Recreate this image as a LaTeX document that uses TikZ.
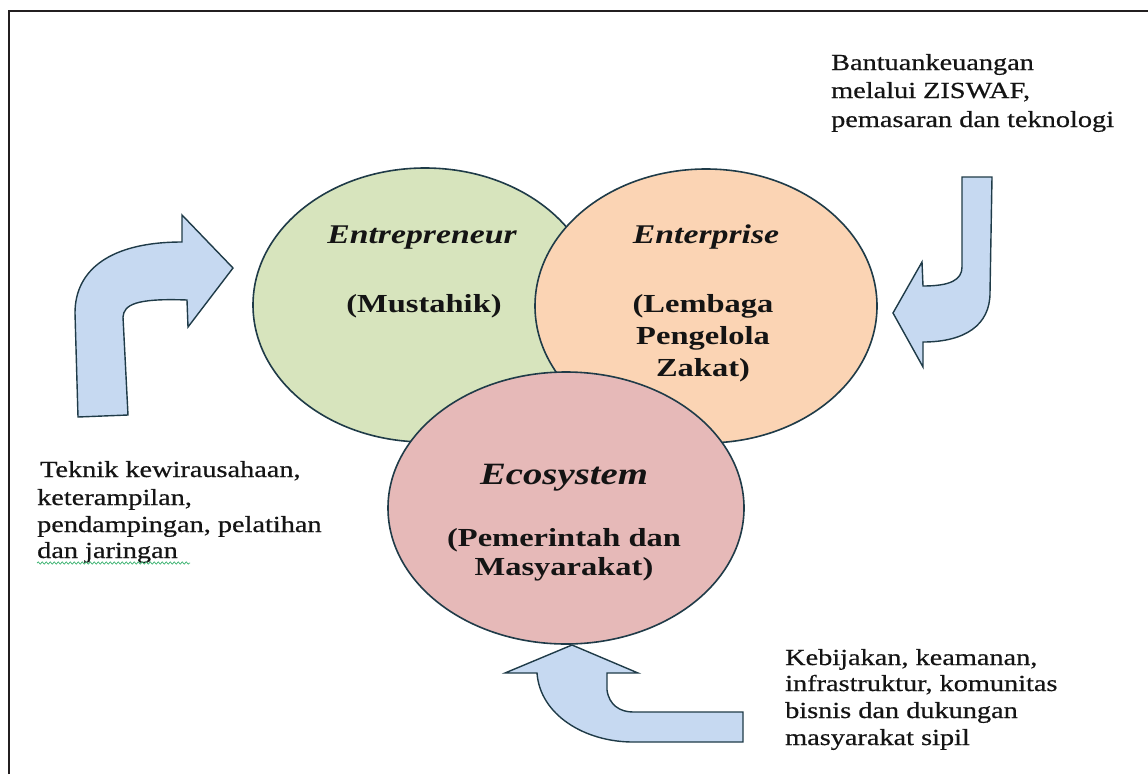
\documentclass[tikz,border=0pt]{standalone}
\usepackage{fontspec}
\setmainfont{Liberation Serif}[FakeStretch=1.25]
\newfontfamily\heavyserif{Liberation Serif}[FakeStretch=1.23,FakeBold=0.6]
\usetikzlibrary{shapes.geometric,decorations.pathmorphing}
\definecolor{frameC}{HTML}{231F20}
\definecolor{greenF}{HTML}{D7E4BD}
\definecolor{orangeF}{HTML}{FBD4B4}
\definecolor{pinkF}{HTML}{E6B9B8}
\definecolor{blueF}{HTML}{C6D9F1}
\definecolor{edgeC}{HTML}{1F3B48}
\definecolor{inkC}{HTML}{141414}
\definecolor{squiggleC}{HTML}{3CB371}
\begin{document}
\begin{tikzpicture}[x=1pt,y=-1pt,
  bubble/.style={ellipse,draw=edgeC,line width=1.6pt,inner sep=0pt},
  bentarrow/.style={draw=edgeC,fill=blueF,line width=1.4pt,line join=miter},
  small/.style={anchor=base west,inner sep=0pt,text=inkC,font=\heavyserif\fontsize{23}{28}\selectfont},
  title/.style={anchor=base,inner sep=0pt,text=inkC,font=\fontsize{27}{32}\selectfont\bfseries\itshape},
  bigtitle/.style={anchor=base,inner sep=0pt,text=inkC,font=\fontsize{31}{36}\selectfont\bfseries\itshape},
  label/.style={anchor=base,inner sep=0pt,text=inkC,font=\fontsize{26}{32}\selectfont\bfseries},
]
\useasboundingbox (0,0) rectangle (1148,774);
\fill[white] (0,0) rectangle (1148,774);
\draw[frameC,line width=2pt] (9,774) -- (9,11) -- (1148,11);

% circles
\node[bubble,fill=greenF,minimum width=344pt,minimum height=274pt] (ent) at (425,305) {};
\node[bubble,fill=orangeF,minimum width=342pt,minimum height=274pt] (ept) at (706,306) {};
\node[bubble,fill=pinkF,minimum width=356pt,minimum height=272pt] (eco) at (566,508) {};

% circle texts
\node[title] (t1) at (422,243) {Entrepreneur};
\node[label] (t2) at (424,312) {(Mustahik)};
\node[title] (t3) at (706,243) {Enterprise};
\node[label] (t4) at (703,312) {(Lembaga};
\node[label] (t5) at (703,344) {Pengelola};
\node[label] (t6) at (703,376) {Zakat)};
\node[bigtitle] (t7) at (564,484) {Ecosystem};
\node[label] (t8) at (564,546) {(Pemerintah dan};
\node[label] (t9) at (564,575) {Masyarakat)};

% left arrow
\path[bentarrow] (78,417) -- (128,415) -- (123,317)
  .. controls (124,305) and (135,298) .. (187,300)
  -- (188,327) -- (233,268) -- (182,215) -- (182,242)
  .. controls (110,242) and (75,270) .. (75,313) -- cycle;
% right arrow
\path[bentarrow] (962,177) -- (992,177) -- (990,293)
  .. controls (990,325) and (965,342) .. (923,342)
  -- (923,367) -- (893,313) -- (922,262) -- (923,286)
  .. controls (950,286) and (962,280) .. (962,267) -- cycle;
% bottom arrow
\path[bentarrow] (572,645) -- (638,673) -- (607,673) -- (607,690)
  .. controls (609,705) and (620,712) .. (633,712)
  -- (743,712) -- (743,742) -- (633,742)
  .. controls (585,742) and (540,715) .. (537,673)
  -- (505,673) -- cycle;

% top-right text
\node[small] (a1) at (831,70) {Bantuankeuangan};
\node[small] (a2) at (831,98) {melalui ZISWAF,};
\node[small] (a3) at (831,127) {pemasaran dan teknologi};

% left text
\node[small] (b1) at (40,477) {Teknik kewirausahaan,};
\node[small] (b2) at (37,505) {keterampilan,};
\node[small] (b3) at (37,532) {pendampingan, pelatihan};
\node[small] (b4) at (37,558) {dan jaringan};
\draw[squiggleC,line width=0.7pt,decorate,decoration={snake,amplitude=1.1pt,segment length=4pt}]
  (b4.base west) ++(0,5) -- ++(153,0);

% bottom-right text
\node[small] (c1) at (785,665) {Kebijakan, keamanan,};
\node[small] (c2) at (785,691) {infrastruktur, komunitas};
\node[small] (c3) at (785,718) {bisnis dan dukungan};
\node[small] (c4) at (785,745) {masyarakat sipil};
\end{tikzpicture}
\end{document}
